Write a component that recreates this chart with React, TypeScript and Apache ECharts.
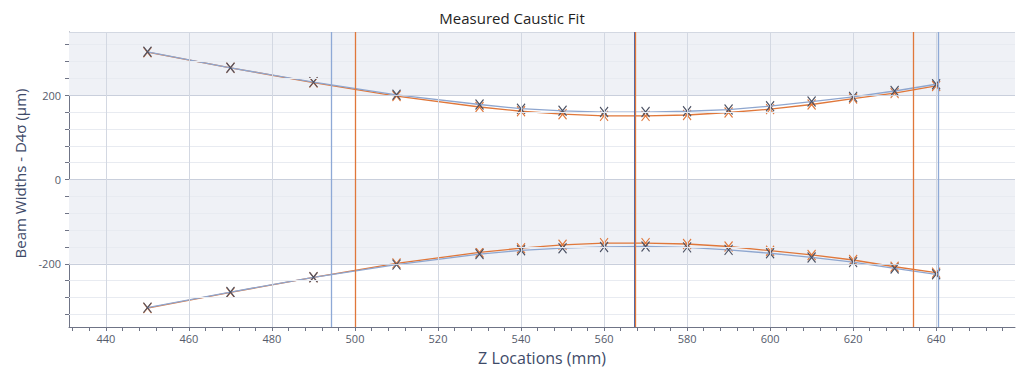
import React, { useEffect, useRef } from "react";
import * as echarts from "echarts";

const zLocations = [450, 470, 490, 510, 530, 540, 550, 560, 570, 580, 590, 600, 610, 620, 630, 640];
const blueUpper = [303, 265, 231, 201, 178, 168, 163, 160, 160, 162, 166, 174, 185, 196, 210, 226];
const blueLower = [-304, -267, -232, -202, -177, -168, -163, -160, -159, -161, -167, -175, -185, -196, -211, -225];
const orangeUpper = [302, 265, 230, 198, 172, 162, 155, 151, 151, 153, 159, 167, 178, 192, 205, 222];
const orangeLower = [-305, -268, -232, -199, -173, -163, -155, -151, -151, -153, -159, -169, -179, -191, -207, -221];

const blueRefLines = [494.3, 567.3, 640.4];
const orangeRefLines = [500.1, 567.6, 634.4];

const xTickLabels = [440, 460, 480, 500, 520, 540, 560, 580, 600, 620, 640];
const xMinorTicks = [432, 436, 440, 444, 448, 452, 456, 460, 464, 468, 472, 476, 480, 484, 488, 492, 496, 500, 504, 508, 512, 516, 520, 524, 528, 532, 536, 540, 544, 548, 552, 556, 560, 564, 568, 572, 576, 580, 584, 588, 592, 596, 600, 604, 608, 612, 616, 620, 624, 628, 632, 636, 640, 644, 648, 652, 656];
const yTickLabels = [-200, 0, 200];
const yMinorTicks = [-320, -280, -240, -200, -160, -120, -80, -40, 0, 40, 80, 120, 160, 200, 240, 280, 320];
const shadedBands = [[200, 350], [-200, 0]];

const X_MIN = 431.1;
const X_MAX = 659.0;
const Y_MIN = -350;
const Y_MAX = 350;

const FONT = "'Open Sans', 'Noto Sans', sans-serif";
const BLUE_LINE = "#8ea6cf";
const BLUE_MARK = "#4b5163";
const ORANGE = "#e0773a";
const XSYMBOL = "path://M0,0L10,12M10,0L0,12";

function zip(ys: number[]) {
  return zLocations.map((z, i) => [z, ys[i]]);
}

export default function App() {
  const ref = useRef<HTMLDivElement>(null);
  useEffect(() => {
    if (!ref.current) return;
    const chart = echarts.init(ref.current, null, { renderer: "svg" });

    const dataSeries = (name: string, ys: number[], lineColor: string, markColor: string, z: number) => ({
      name,
      type: "line",
      data: zip(ys),
      z,
      symbol: XSYMBOL,
      symbolSize: [8, 10],
      showSymbol: true,
      lineStyle: { color: lineColor, width: 1.3 },
      itemStyle: { color: "none", borderColor: markColor, borderWidth: 1.2 },
      silent: true,
    });

    chart.setOption({
      animation: false,
      title: {
        text: "Measured Caustic Fit",
        left: "center",
        top: 5,
        textStyle: { fontFamily: FONT, fontSize: 15, fontWeight: "normal", color: "#1f1f1f" },
      },
      grid: { left: 69, right: 9, top: 32, bottom: 51, containLabel: false },
      xAxis: {
        type: "value",
        min: X_MIN,
        max: X_MAX,
        name: "Z Locations (mm)",
        nameLocation: "middle",
        nameGap: 23,
        nameTextStyle: { fontFamily: FONT, fontSize: 16, color: "#3e4a68" },
        axisLine: { show: true, onZero: false, lineStyle: { color: "#6f7486", width: 1 } },
        axisTick: { show: true, customValues: xMinorTicks, length: 4, lineStyle: { color: "#6f7486" } },
        axisLabel: { customValues: xTickLabels, fontFamily: FONT, fontSize: 11, color: "#555b6b", margin: 6 },
        splitLine: { show: false },
      },
      yAxis: {
        type: "value",
        min: Y_MIN,
        max: Y_MAX,
        name: "Beam Widths - D4σ (μm)",
        nameLocation: "middle",
        nameGap: 36,
        nameTextStyle: { fontFamily: FONT, fontSize: 15, color: "#3e4a68", padding: [0, 0, 0, 12] },
        axisLine: { show: true, onZero: false, lineStyle: { color: "#6f7486", width: 1 } },
        axisTick: { show: true, customValues: yMinorTicks, length: 4, lineStyle: { color: "#6f7486" } },
        axisLabel: { customValues: yTickLabels, fontFamily: FONT, fontSize: 11, color: "#555b6b", margin: 8 },
        splitLine: { show: false },
      },
      series: [
        {
          name: "grid",
          type: "line",
          data: [],
          z: 1,
          silent: true,
          markArea: {
            silent: true,
            itemStyle: { color: "#eff1f6" },
            data: shadedBands.map((b) => [{ yAxis: b[0] }, { yAxis: b[1] }]),
          },
          markLine: {
            silent: true,
            symbol: "none",
            label: { show: false },
            animation: false,
            data: [
              ...yMinorTicks
                .filter((v) => !yTickLabels.includes(v))
                .map((v) => ({ yAxis: v, lineStyle: { color: "#e8ebf1", width: 1, type: "solid" } })),
              ...yTickLabels.map((v) => ({ yAxis: v, lineStyle: { color: "#c9cfdc", width: 1, type: "solid" } })),
              ...xTickLabels.map((v) => ({ xAxis: v, lineStyle: { color: "#d3d8e2", width: 1, type: "solid" } })),
              { yAxis: Y_MAX, lineStyle: { color: "#d3d8e2", width: 1, type: "solid" } },
            ],
          },
        },
        {
          name: "refs",
          type: "line",
          data: [],
          z: 2,
          silent: true,
          markLine: {
            silent: true,
            symbol: "none",
            label: { show: false },
            animation: false,
            data: [
              ...blueRefLines.map((v, i) => ({
                xAxis: v,
                lineStyle: { color: i === 1 ? "#3f66b0" : "#8ea9d6", width: i === 1 ? 2 : 1.3, type: "solid" },
              })),
              ...orangeRefLines.map((v) => ({
                xAxis: v,
                lineStyle: { color: ORANGE, width: 1.3, type: "solid" },
              })),
            ],
          },
        },
        dataSeries("Blue Upper", blueUpper, BLUE_LINE, BLUE_MARK, 4),
        dataSeries("Blue Lower", blueLower, BLUE_LINE, BLUE_MARK, 4),
        dataSeries("Orange Upper", orangeUpper, ORANGE, ORANGE, 3),
        dataSeries("Orange Lower", orangeLower, ORANGE, ORANGE, 3),
      ],
    });
    return () => chart.dispose();
  }, []);
  return <div ref={ref} style={{ width: 1024, height: 378, position: "absolute", left: 0, top: 0 }} />;
}
